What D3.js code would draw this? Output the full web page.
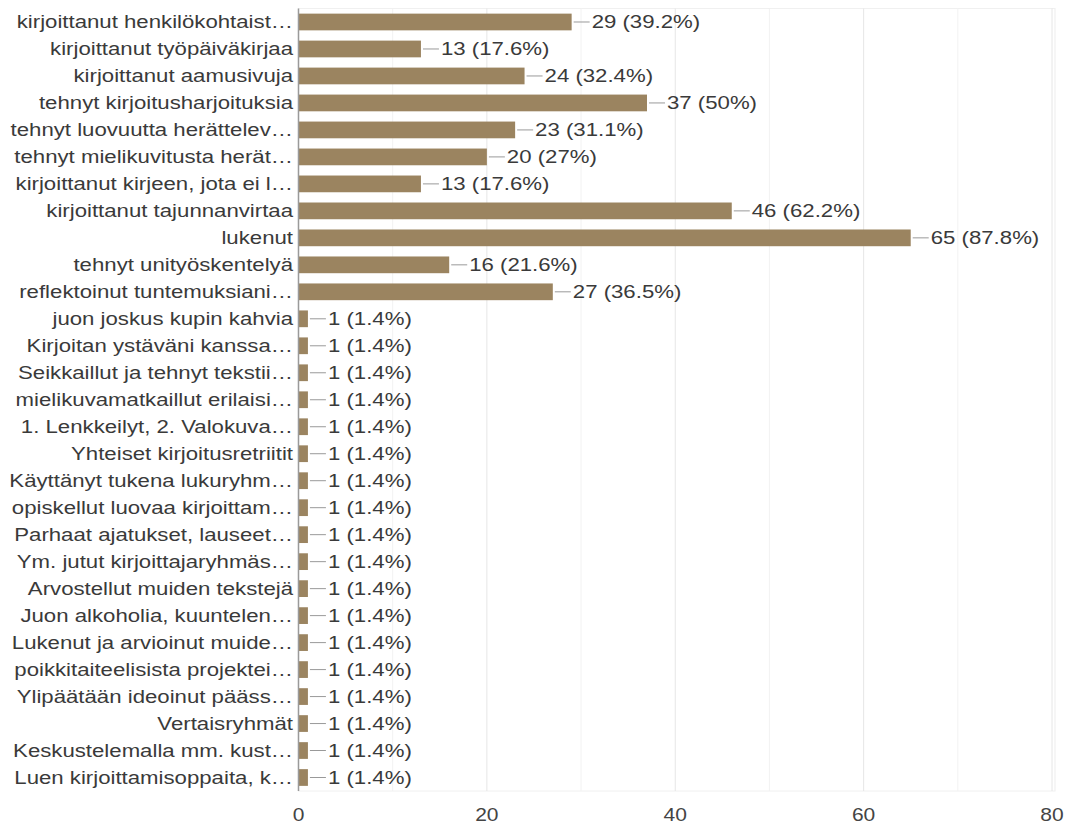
<!DOCTYPE html>
<html>
<head>
<meta charset="utf-8">
<script src="https://cdn.jsdelivr.net/npm/d3@7"></script>
<style>
  html, body { margin: 0; padding: 0; background: #fff; }
  svg { display: block; }
</style>
</head>
<body>
<svg id="chart"></svg>
<script>
// Answers (count) and their share of respondents
const categories = [
  "kirjoittanut henkilökohtaist…",
  "kirjoittanut työpäiväkirjaa",
  "kirjoittanut aamusivuja",
  "tehnyt kirjoitusharjoituksia",
  "tehnyt luovuutta herättelev…",
  "tehnyt mielikuvitusta herät…",
  "kirjoittanut kirjeen, jota ei l…",
  "kirjoittanut tajunnanvirtaa",
  "lukenut",
  "tehnyt unityöskentelyä",
  "reflektoinut tuntemuksiani…",
  "juon joskus kupin kahvia",
  "Kirjoitan ystäväni kanssa…",
  "Seikkaillut ja tehnyt tekstii…",
  "mielikuvamatkaillut erilaisi…",
  "1. Lenkkeilyt, 2. Valokuva…",
  "Yhteiset kirjoitusretriitit",
  "Käyttänyt tukena lukuryhm…",
  "opiskellut luovaa kirjoittam…",
  "Parhaat ajatukset, lauseet…",
  "Ym. jutut kirjoittajaryhmäs…",
  "Arvostellut muiden tekstejä",
  "Juon alkoholia, kuuntelen…",
  "Lukenut ja arvioinut muide…",
  "poikkitaiteelisista projektei…",
  "Ylipäätään ideoinut pääss…",
  "Vertaisryhmät",
  "Keskustelemalla mm. kust…",
  "Luen kirjoittamisoppaita, k…"
];
const counts = [29, 13, 24, 37, 23, 20, 13, 46, 65, 16, 27,
  1, 1, 1, 1, 1, 1, 1, 1, 1, 1, 1, 1, 1, 1, 1, 1, 1, 1];
const percents = ["39.2%", "17.6%", "32.4%", "50%", "31.1%", "27%", "17.6%", "62.2%", "87.8%", "21.6%", "36.5%",
  "1.4%", "1.4%", "1.4%", "1.4%", "1.4%", "1.4%", "1.4%", "1.4%", "1.4%", "1.4%", "1.4%", "1.4%", "1.4%", "1.4%", "1.4%", "1.4%", "1.4%", "1.4%"];
const xTicks = [0, 20, 40, 60, 80];
const gridTicks = [0, 10, 20, 30, 40, 50, 60, 70, 80];

const W = 1070, H = 830;
const SX = 1.2;               // horizontal stretch of the whole drawing
const px = v => v / SX;       // screen px -> user units (horizontal)

const svg = d3.select("#chart")
  .attr("width", W).attr("height", H)
  .attr("viewBox", `0 0 ${W / SX} ${H}`)
  .attr("preserveAspectRatio", "none");

const plotTop = 8.5, plotBottom = 791;
const x = d3.scaleLinear().domain([0, 80]).range([px(298.5), px(1052)]);
const y = d3.scaleBand().domain(categories).range([plotTop, plotBottom])
  .paddingInner(0.38).paddingOuter(0.19);

const font = "'Liberation Sans', Arial, sans-serif";
const textColor = "#3a3a3a";

// plot frame
svg.append("rect")
  .attr("x", x(0)).attr("y", plotTop)
  .attr("width", px(1055) - x(0)).attr("height", plotBottom - plotTop)
  .attr("fill", "none").attr("stroke", "#f0f0f0").attr("stroke-width", 1);

// vertical gridlines
svg.append("g").selectAll("line").data(gridTicks.filter(d => d > 0)).join("line")
  .attr("x1", d => x(d)).attr("x2", d => x(d))
  .attr("y1", plotTop).attr("y2", plotBottom)
  .attr("stroke", d => d % 20 === 0 ? "#e4e4e4" : "#f1f1f1")
  .attr("stroke-width", px(1));

// x axis tick labels
svg.append("g").selectAll("text").data(xTicks).join("text")
  .attr("x", d => x(d)).attr("y", 815)
  .attr("text-anchor", "middle").attr("dominant-baseline", "central")
  .attr("font-family", font).attr("font-size", 17.5)
  .attr("fill", "#444")
  .text(d => d);

// bars
svg.append("g").selectAll("rect").data(counts).join("rect")
  .attr("x", x(0))
  .attr("y", (d, i) => y(categories[i]))
  .attr("width", d => x(d) - x(0))
  .attr("height", y.bandwidth())
  .attr("fill", "#9b8460");

// baseline
svg.append("line")
  .attr("x1", x(0)).attr("x2", x(0))
  .attr("y1", plotTop).attr("y2", plotBottom)
  .attr("stroke", "#9a9a9a").attr("stroke-width", px(1.5));

// category labels
svg.append("g").selectAll("text").data(categories).join("text")
  .attr("x", px(293))
  .attr("y", d => y(d) + y.bandwidth() / 2)
  .attr("text-anchor", "end").attr("dominant-baseline", "central")
  .attr("font-family", font).attr("font-size", 18.5)
  .attr("fill", textColor)
  .text(d => d);

// leader lines and value labels
const vals = svg.append("g");
vals.selectAll("line").data(counts).join("line")
  .attr("x1", d => x(d) + px(2)).attr("x2", d => x(d) + px(18))
  .attr("y1", (d, i) => y(categories[i]) + y.bandwidth() / 2)
  .attr("y2", (d, i) => y(categories[i]) + y.bandwidth() / 2)
  .attr("stroke", "#999").attr("stroke-width", 1);
vals.selectAll("text").data(counts).join("text")
  .attr("x", d => x(d) + px(20))
  .attr("y", (d, i) => y(categories[i]) + y.bandwidth() / 2)
  .attr("dominant-baseline", "central")
  .attr("font-family", font).attr("font-size", 18.5)
  .attr("fill", textColor)
  .text((d, i) => `${d} (${percents[i]})`);
</script>
</body>
</html>
